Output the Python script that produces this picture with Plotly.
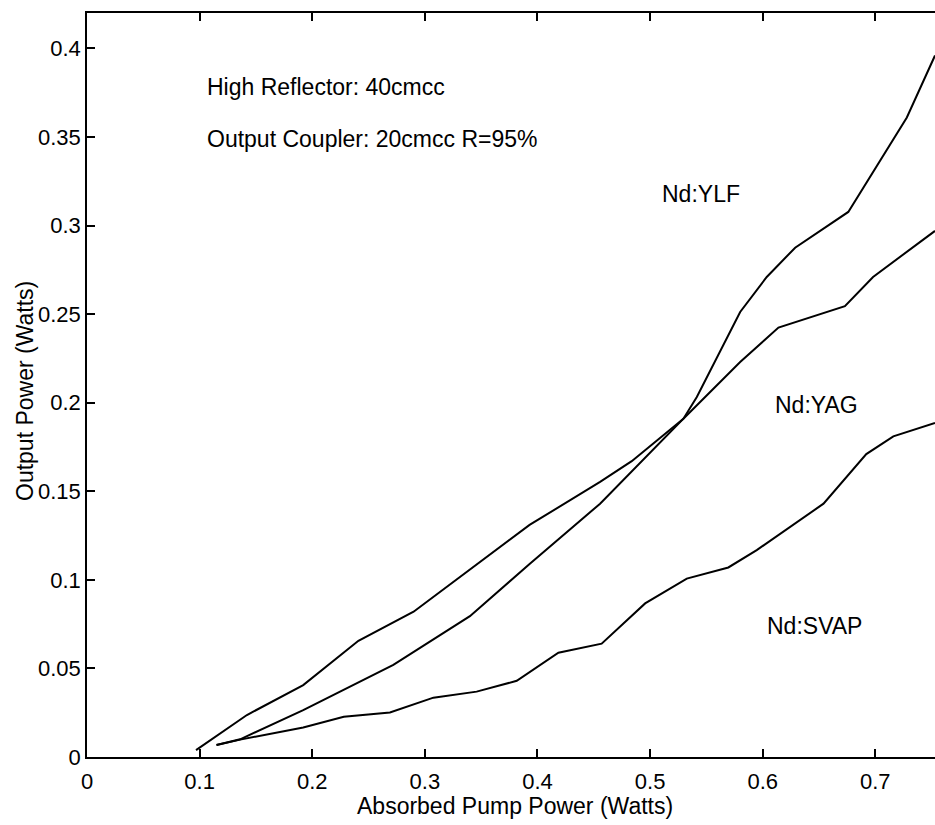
import plotly.graph_objects as go

# absorbed pump power (W) / output power (W)
ylf_x = [0.115, 0.136, 0.192, 0.272, 0.340, 0.393, 0.4556, 0.5296, 0.5415, 0.580, 0.6036, 0.6288, 0.676, 0.728, 0.753]
ylf_y = [0.0068, 0.010, 0.0265, 0.052, 0.0795, 0.109, 0.143, 0.191, 0.2032, 0.2512, 0.271, 0.2875, 0.3077, 0.361, 0.396]

yag_x = [0.0968, 0.142, 0.192, 0.241, 0.290, 0.393, 0.4556, 0.4837, 0.5296, 0.580, 0.614, 0.673, 0.698, 0.753]
yag_y = [0.0039, 0.0237, 0.0406, 0.0656, 0.082, 0.131, 0.1553, 0.167, 0.191, 0.223, 0.2424, 0.2545, 0.271, 0.297]

svap_x = [0.115, 0.136, 0.192, 0.228, 0.269, 0.3076, 0.346, 0.3816, 0.4186, 0.457, 0.4956, 0.5326, 0.5695, 0.5947, 0.654, 0.692, 0.716, 0.753]
svap_y = [0.0068, 0.0098, 0.0167, 0.0227, 0.0251, 0.0335, 0.0369, 0.043, 0.0589, 0.064, 0.0867, 0.1007, 0.107, 0.1168, 0.143, 0.171, 0.181, 0.1886]

names = ["Nd:YLF", "Nd:YAG", "Nd:SVAP"]

fig = go.Figure()
for nm, xs, ys in [(names[0], ylf_x, ylf_y), (names[1], yag_x, yag_y), (names[2], svap_x, svap_y)]:
    fig.add_trace(go.Scatter(x=xs, y=ys, mode="lines", name=nm,
                             line=dict(color="black", width=2)))

fam = "Liberation Sans, Arial, Helvetica, sans-serif"
font = dict(family=fam, size=23, color="black")
tickfont = dict(family=fam, size=22, color="black")

notes = [
    ("High Reflector: 40cmcc", 0.1048, 0.378),
    ("Output Coupler: 20cmcc R=95%", 0.1048, 0.349),
    ("Nd:YLF", 0.509, 0.318),
    ("Nd:YAG", 0.609, 0.1986),
    ("Nd:SVAP", 0.602, 0.0739),
]
for txt, ax, ay in notes:
    fig.add_annotation(x=ax, y=ay, xref="x", yref="y", text=txt, showarrow=False,
                       xanchor="left", yanchor="middle", font=font)

# axis titles
fig.add_annotation(x=0.5, y=0, xref="paper", yref="paper", text="Absorbed Pump Power (Watts)",
                   showarrow=False, xanchor="center", yanchor="middle", xshift=4, yshift=-49, font=font)
fig.add_annotation(x=0, y=0.5, xref="paper", yref="paper", text="Output Power (Watts)",
                   showarrow=False, textangle=-90, xanchor="center", yanchor="middle",
                   xshift=-62, yshift=-6, font=font)

# plot runs off the right edge, like the scan
fig.update_layout(
    width=935, height=825,
    margin=dict(l=87, r=0, t=13, b=68),
    paper_bgcolor="white", plot_bgcolor="white",
    showlegend=False, font=font,
)
fig.update_xaxes(range=[0, 0.753], dtick=0.1, tick0=0, showgrid=False, zeroline=False,
                 showline=True, linecolor="black", linewidth=1.5, mirror="ticks",
                 ticks="inside", ticklen=8, tickcolor="black", tickwidth=1.5,
                 ticklabelstandoff=4, tickfont=tickfont, automargin=False)
fig.update_yaxes(range=[0, 0.42], dtick=0.05, tick0=0, showgrid=False, zeroline=False,
                 showline=True, linecolor="black", linewidth=1.5, mirror=False,
                 ticks="inside", ticklen=8, tickcolor="black", tickwidth=1.5,
                 ticklabelstandoff=0, tickfont=tickfont, automargin=False)

# drop the default 8px body margin so the figure fills the window exactly
fig.write_html("out.html", config={"displayModeBar": False},
               post_script="document.body.style.margin='0';document.body.style.overflow='hidden';")
